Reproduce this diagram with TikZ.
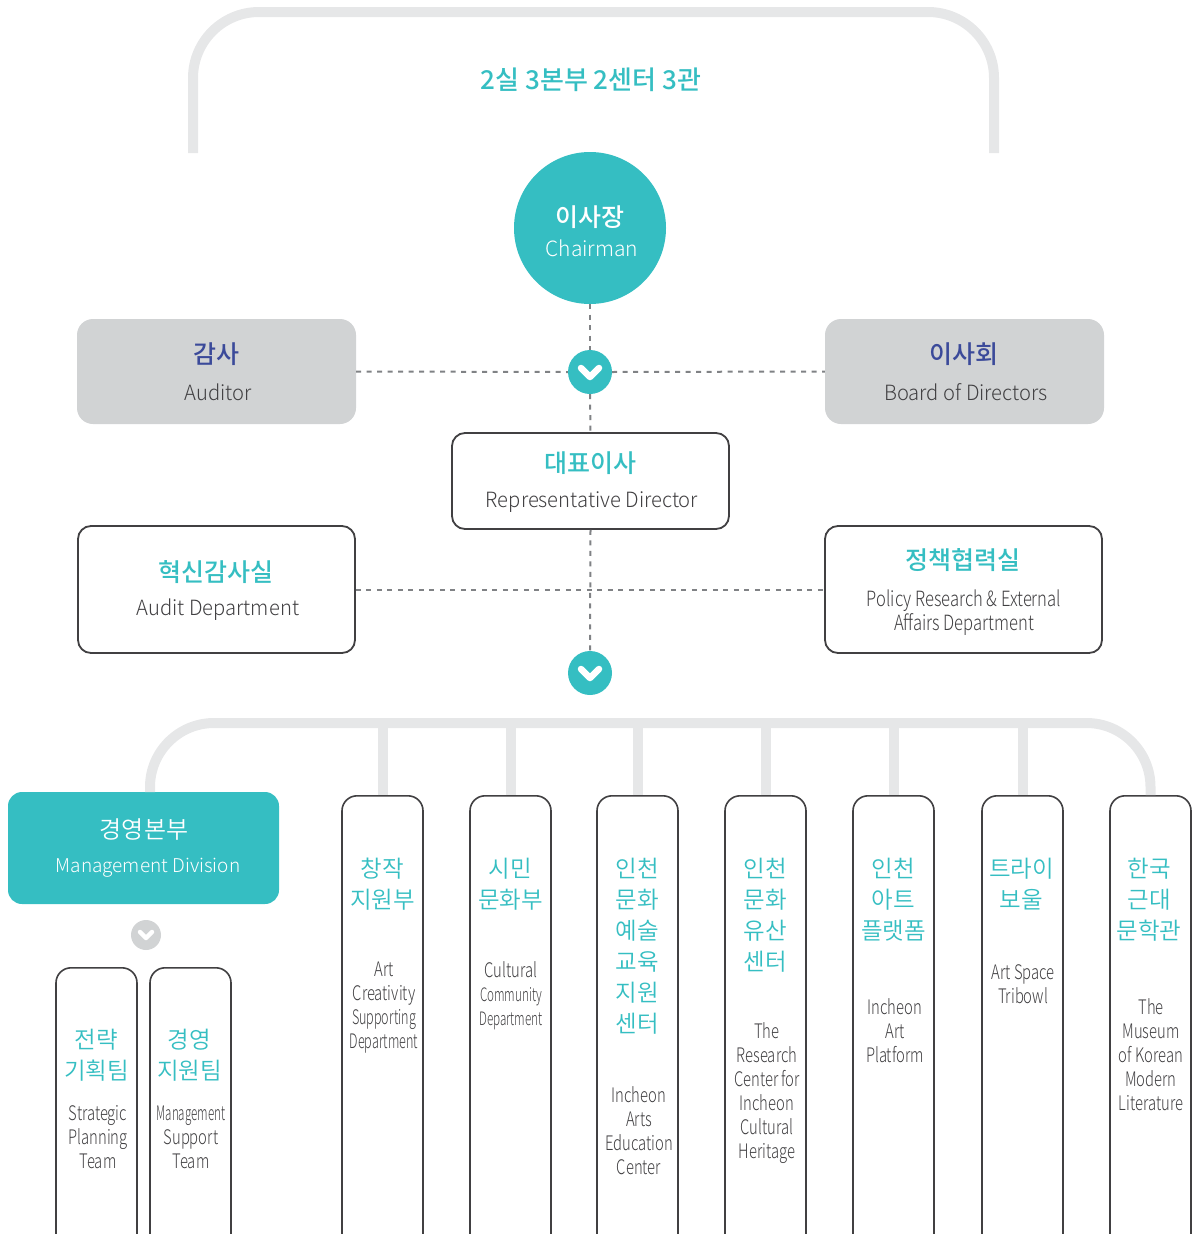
\documentclass[tikz,border=0pt]{standalone}
\usepackage{fontspec}
\setmainfont{Noto Sans CJK KR}
\IfFontExistsTF{Noto Sans CJK KR Light}{\def\lightname{Noto Sans CJK KR Light}}{\def\lightname{Noto Sans CJK KR}}
\IfFontExistsTF{Noto Sans CJK KR DemiLight}{\def\deminame{Noto Sans CJK KR DemiLight}}{\def\deminame{Noto Sans CJK KR}}
\IfFontExistsTF{Noto Sans CJK KR Medium}{\newfontfamily\medfont{Noto Sans CJK KR Medium}}{\newfontfamily\medfont[FakeBold=0.6]{Noto Sans CJK KR}}
\newfontfamily\lightf{\lightname}
\newfontfamily\demif{\deminame}
\newfontfamily\lightn[FakeStretch=0.96]{\lightname}
\newfontfamily\condA[FakeStretch=0.74]{\lightname}
\newfontfamily\condB[FakeStretch=0.63]{\lightname}
\newfontfamily\condC[FakeStretch=0.79]{\lightname}
\newfontfamily\condD[FakeStretch=0.58]{\lightname}
\newcommand\fs[2]{\fontsize{#1}{#2}\selectfont}
\definecolor{tealc}{HTML}{35BEC2}
\definecolor{busgray}{HTML}{E6E7E8}
\definecolor{boxgray}{HTML}{D1D3D4}
\definecolor{darktxt}{HTML}{414042}
\definecolor{indigo}{HTML}{3B4A9A}
\definecolor{dashgray}{HTML}{808285}
\tikzset{
  bus/.style={draw=busgray, line width=10},
  dashc/.style={draw=dashgray, line width=2, dash pattern=on 5 off 5.5},
  graybox/.style={rectangle, fill=boxgray, rounded corners=16, minimum width=279, minimum height=105, inner sep=0},
  whitebox/.style={rectangle, fill=white, draw=darktxt, line width=1.8, rounded corners=13, inner sep=0},
  colbox/.style={rectangle, fill=white, draw=darktxt, line width=1.6, rounded corners=15, minimum width=81, minimum height=455, anchor=north, inner sep=0},
  teamb/.style={colbox, minimum height=290},
  chevc/.style={circle, fill=tealc, minimum size=44, inner sep=0},
  chevg/.style={circle, fill=boxgray, minimum size=30, inner sep=0},
  chevl/.style={draw=white, line width=6.5, line cap=round, line join=round},
  ktitle/.style={inner sep=0, text=tealc, font=\medfont\fs{25}{30}},
  etext/.style={inner sep=0, text=darktxt, font=\lightn\fs{21}{25}, align=center},
  kcol/.style={inner sep=0, text=tealc, font=\demif\fs{23.5}{31}, align=center},
  ecol/.style={inner sep=0, text=darktxt, font=\condA\fs{20}{24}, align=center},
}
\begin{document}
\begin{tikzpicture}[x=1pt, y=-1pt]
\useasboundingbox (0,0) rectangle (1196,1234);
\clip (0,0) rectangle (1196,1234);

% top arch
\coordinate (archL) at (193,153);
\coordinate (archR) at (994,153);
\draw[bus, rounded corners=66] (archL) |- (594,12) -| (archR);
\node[ktitle, font=\medfont\fs{26}{30}] (title) at (591,80) {2실 3본부 2센터 3관};

% chairman
\node[circle, fill=tealc, minimum size=152, inner sep=0] (chair) at (590,228) {};
\node[inner sep=0, text=white, font=\medfont\fs{25}{30}] (chairk) at (590,217) {이사장};
\node[inner sep=0, text=white, font=\lightf\fs{21}{25}] (chaire) at (592,248) {Chairman};

% auditor & board
\node[graybox] (aud) at (216.5,371.5) {};
\node[ktitle, text=indigo] (audk) at (216,354) {감사};
\node[etext] (aude) at (218,392) {Auditor};
\node[graybox] (board) at (964.5,371.5) {};
\node[ktitle, text=indigo] (boardk) at (964,354) {이사회};
\node[etext] (boarde) at (966,392) {Board of Directors};

% representative director
\node[whitebox, minimum width=277, minimum height=96] (rep) at (590.5,481) {};
\node[ktitle] (repk) at (590,463) {대표이사};
\node[etext] (repe) at (592,502) {Representative Director};

% audit dept & policy
\node[whitebox, minimum width=277, minimum height=127] (adept) at (216.5,589.5) {};
\node[ktitle] (adeptk) at (216,572) {혁신감사실};
\node[etext] (adepte) at (218,610) {Audit Department};
\node[whitebox, minimum width=277, minimum height=127] (pol) at (963.5,589.5) {};
\node[ktitle] (polk) at (963,560) {정책협력실};
\node[etext, font=\condC\fs{21}{24}] (pole) at (964,613) {Policy Research \& External\\Affairs Department};

% chevrons
\node[chevc] (chev1) at (590,372) {};
\node[chevc] (chev2) at (590,673) {};

% dashed connectors
\draw[dashc] (chair.south) -- (chev1.north);
\draw[dashc] (chev1.south) -- (rep.north);
\draw[dashc] (aud.east) -- (chev1.west);
\draw[dashc] (chev1.east) -- (board.west);
\draw[dashc] (rep.south) -- (chev2.north);
\draw[dashc] (adept.east) -- (pol.west);

\foreach \c in {chev1,chev2}{
  \draw[chevl] ([shift={(-9,-4)}]\c.center) -- ([shift={(0,5)}]\c.center) -- ([shift={(9,-4)}]\c.center);
}

% management division
\node[rectangle, fill=tealc, rounded corners=14, minimum width=271, minimum height=112, inner sep=0] (mgmt) at (143.5,848) {};
\node[inner sep=0, text=white, font=\demif\fs{24}{28}] (mgmtk) at (144,830) {경영본부};
\node[inner sep=0, text=white, font=\lightf\fs{19}{24}] (mgmte) at (148,868) {Management Division};
\node[chevg] (chev3) at (146,935) {};
\draw[chevl, line width=4.5] ([shift={(-6,-3)}]chev3.center) -- ([shift={(0,3)}]chev3.center) -- ([shift={(6,-3)}]chev3.center);

% columns
\node[colbox] (c1) at (382.5,795) {};
\node[colbox] (c2) at (510.5,795) {};
\node[colbox] (c3) at (637.5,795) {};
\node[colbox] (c4) at (765.5,795) {};
\node[colbox] (c5) at (893.5,795) {};
\node[colbox] (c6) at (1022.5,795) {};
\node[colbox] (c7) at (1150.5,795) {};
\node[teamb] (t1) at (96.5,967) {};
\node[teamb] (t2) at (190.5,967) {};

% bus
\coordinate (busL) at (150,792);
\coordinate (busy) at (0,723);
\draw[bus, rounded corners=64] (busL) |- (c7.north |- busy) -- (c7.north);
\foreach \c in {c1,c2,c3,c4,c5,c6}{
  \draw[bus] (\c.north) -- (\c.north |- busy);
}

% column texts
\node[kcol] (c1k) at (382.5,884.5) {창작\\지원부};
\node[ecol, font=\condB\fs{20}{24}] (c1e) at (384,1008) {{\condA Art}\\{\condA\fs{20}{24}Creativity}\\Supporting\\Department};
\node[kcol] (c2k) at (510.5,884.5) {시민\\문화부};
\node[ecol] (c2e) at (511,996) {Cultural\\{\condB\fs{18.5}{24}Community}\\{\condB\fs{18.5}{24}Department}};
\node[kcol] (c3k) at (637.5,946) {인천\\문화\\예술\\교육\\지원\\센터};
\node[ecol] (c3e) at (639,1131) {Incheon\\Arts\\Education\\Center};
\node[kcol] (c4k) at (765.5,915) {인천\\문화\\유산\\센터};
\node[ecol] (c4e) at (767,1093) {The\\Research\\Center for\\Incheon\\Cultural\\Heritage};
\node[kcol] (c5k) at (893.5,899.5) {인천\\아트\\플랫폼};
\node[ecol] (c5e) at (895,1031) {Incheon\\Art\\Platform};
\node[kcol] (c6k) at (1021.5,884.5) {트라이\\보울};
\node[ecol] (c6e) at (1023,984) {Art Space\\Tribowl};
\node[kcol] (c7k) at (1149,899.5) {한국\\근대\\문학관};
\node[ecol] (c7e) at (1151,1055) {The\\Museum\\of Korean\\Modern\\Literature};
\node[kcol] (t1k) at (96.5,1055.5) {전략\\기획팀};
\node[ecol] (t1e) at (98,1137) {Strategic\\Planning\\Team};
\node[kcol] (t2k) at (189.5,1055.5) {경영\\지원팀};
\node[ecol] (t2e) at (191,1137) {{\condD Management}\\Support\\Team};
\end{tikzpicture}
\end{document}
